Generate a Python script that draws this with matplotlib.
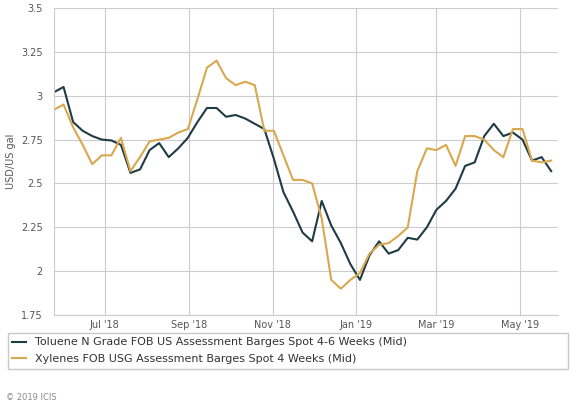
import matplotlib
matplotlib.use("Agg")
import matplotlib.pyplot as plt
import matplotlib.dates as mdates
import pandas as pd

dates = pd.date_range("2018-05-25", periods=53, freq="7D")
toluene = [3.02, 3.05, 2.85, 2.80, 2.77, 2.75, 2.745, 2.72, 2.56, 2.58,
           2.69, 2.73, 2.65, 2.70, 2.76, 2.85, 2.93, 2.93, 2.88, 2.89,
           2.87, 2.84, 2.81, 2.64, 2.45, 2.34, 2.22, 2.17, 2.40, 2.26,
           2.16, 2.04, 1.95, 2.09, 2.17, 2.10, 2.12, 2.19, 2.18, 2.25,
           2.35, 2.40, 2.47, 2.60, 2.62, 2.77, 2.84, 2.77, 2.79, 2.75,
           2.63, 2.65, 2.57]
xylenes = [2.92, 2.95, 2.82, 2.72, 2.61, 2.66, 2.66, 2.76, 2.57, 2.65,
           2.74, 2.75, 2.76, 2.79, 2.81, 2.98, 3.16, 3.20, 3.10, 3.06,
           3.08, 3.06, 2.80, 2.80, 2.66, 2.52, 2.52, 2.50, 2.30, 1.95,
           1.90, 1.95, 1.99, 2.10, 2.15, 2.16, 2.20, 2.25, 2.57, 2.70,
           2.69, 2.72, 2.60, 2.77, 2.77, 2.75, 2.69, 2.65, 2.81, 2.81,
           2.63, 2.62, 2.63]
yticks = [1.75, 2, 2.25, 2.5, 2.75, 3, 3.25, 3.5]
ylabels = ["1.75", "2", "2.25", "2.5", "2.75", "3", "3.25", "3.5"]

txt = "#555555"
fig = plt.figure(figsize=(5.76, 4.12), dpi=100)
ax = fig.add_axes([54 / 576, 1 - 315 / 412, 504 / 576, 307 / 412])
ax.plot(dates, toluene, color="#1f3b44", lw=1.5,
        label="Toluene N Grade FOB US Assessment Barges Spot 4-6 Weeks (Mid)")
ax.plot(dates, xylenes, color="#d9a84e", lw=1.5,
        label="Xylenes FOB USG Assessment Barges Spot 4 Weeks (Mid)")

ax.set_ylim(1.75, 3.5)
ax.set_yticks(yticks)
ax.set_yticklabels(ylabels)
ax.set_xlim(pd.Timestamp("2018-05-25"), pd.Timestamp("2019-05-29"))
ax.xaxis.set_major_locator(mdates.MonthLocator(bymonth=[1, 3, 5, 7, 9, 11]))
ax.xaxis.set_major_formatter(mdates.DateFormatter("%b '%y"))
ax.grid(True, color="#cccccc", lw=0.8)
ax.tick_params(colors=txt, labelsize=7, length=0)
ax.tick_params(axis="y", pad=8)
for s in ["top", "right"]:
    ax.spines[s].set_visible(False)
for s in ["left", "bottom"]:
    ax.spines[s].set_color("#cccccc")
ax.set_ylabel("USD/US gal", fontsize=7, color=txt)

leg = fig.legend(loc="upper left", bbox_to_anchor=(8 / 576, 1 - 380 / 412, 560 / 576, 47 / 412),
                 mode="expand", fontsize=8, frameon=True, fancybox=False,
                 edgecolor="#bbbbbb", handlelength=1.2, borderaxespad=0, labelspacing=0.6)
for t in leg.get_texts():
    t.set_color("#333333")
fig.text(6 / 576, 1 - 398 / 412, "© 2019 ICIS", fontsize=6, color="#888888", va="center")

fig.savefig("out.png", dpi=100)
